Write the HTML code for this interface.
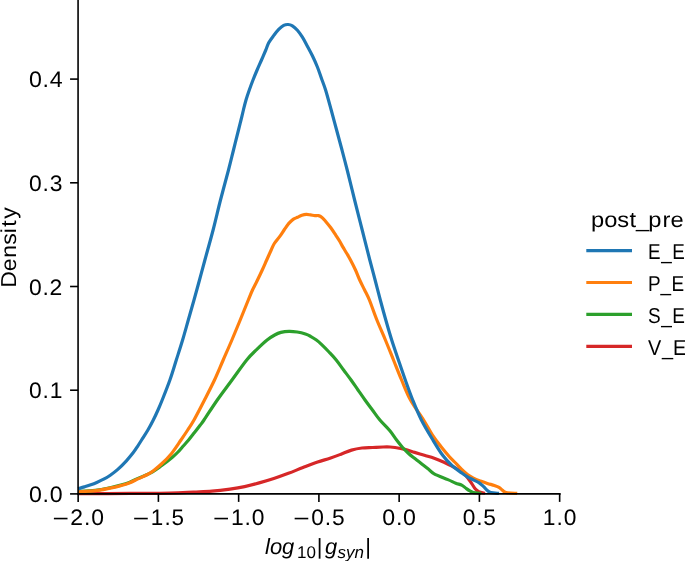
<!DOCTYPE html><html><head><meta charset="utf-8"><style>html,body{margin:0;padding:0;background:#fff;overflow:hidden}svg{display:block;will-change:transform}text{font-family:"Liberation Sans",sans-serif;fill:#000;text-rendering:geometricPrecision}</style></head><body>
<svg width="685" height="561" viewBox="0 0 685 561">
<rect width="685" height="561" fill="#fff"/>
<g fill="none" stroke-width="3.2" stroke-linejoin="round" stroke-linecap="butt">
<path stroke="#d62728" d="M78.10,493.70 C86.75,493.65 114.68,493.50 130.00,493.40 C145.32,493.30 159.43,493.32 170.00,493.10 C180.57,492.88 186.40,492.42 193.40,492.10 C200.40,491.78 205.90,491.70 212.00,491.20 C218.10,490.70 224.57,489.87 230.00,489.10 C235.43,488.33 239.73,487.63 244.60,486.60 C249.47,485.57 254.33,484.25 259.20,482.90 C264.07,481.55 268.93,480.10 273.80,478.50 C278.67,476.90 283.53,475.13 288.40,473.30 C293.27,471.47 298.13,469.38 303.00,467.50 C307.87,465.62 313.10,463.55 317.60,462.00 C322.10,460.45 326.10,459.50 330.00,458.20 C333.90,456.90 337.42,455.55 341.00,454.20 C344.58,452.85 348.00,451.13 351.50,450.10 C355.00,449.07 358.48,448.43 362.00,448.00 C365.52,447.57 369.08,447.67 372.60,447.50 C376.12,447.33 380.18,447.08 383.10,447.00 C386.02,446.92 388.12,446.92 390.10,447.00 C392.08,447.08 392.55,447.10 395.00,447.50 C397.45,447.90 401.53,448.58 404.80,449.40 C408.07,450.22 411.33,451.42 414.60,452.40 C417.87,453.38 421.13,454.33 424.40,455.30 C427.67,456.27 430.93,457.05 434.20,458.20 C437.47,459.35 441.05,460.88 444.00,462.20 C446.95,463.52 449.57,464.88 451.90,466.10 C454.23,467.32 456.07,468.33 458.00,469.50 C459.93,470.67 461.78,471.57 463.50,473.10 C465.22,474.63 466.92,476.95 468.30,478.70 C469.68,480.45 470.65,481.92 471.80,483.60 C472.95,485.28 474.07,487.47 475.20,488.80 C476.33,490.13 477.55,490.97 478.60,491.60 C479.65,492.23 480.43,492.30 481.50,492.60 C482.57,492.90 484.42,493.27 485.00,493.40"/>
<path stroke="#2ca02c" d="M78.10,491.60 C79.87,491.48 85.15,491.20 88.70,490.90 C92.25,490.60 95.83,490.33 99.40,489.80 C102.97,489.27 106.53,488.48 110.10,487.70 C113.67,486.92 117.60,485.98 120.80,485.10 C124.00,484.22 126.43,483.52 129.30,482.40 C132.17,481.28 134.43,479.98 138.00,478.40 C141.57,476.82 146.80,475.00 150.70,472.90 C154.60,470.80 157.83,468.37 161.40,465.80 C164.97,463.23 169.33,459.80 172.10,457.50 C174.87,455.20 176.18,453.87 178.00,452.00 C179.82,450.13 181.23,448.30 183.00,446.30 C184.77,444.30 186.68,442.30 188.60,440.00 C190.52,437.70 192.55,435.00 194.50,432.50 C196.45,430.00 198.72,427.08 200.30,425.00 C201.88,422.92 201.17,424.17 204.00,420.00 C206.83,415.83 212.63,406.67 217.30,400.00 C221.97,393.33 227.10,386.67 232.00,380.00 C236.90,373.33 242.60,365.07 246.70,360.00 C250.80,354.93 253.20,352.93 256.60,349.60 C260.00,346.27 264.08,342.43 267.10,340.00 C270.12,337.57 272.40,336.27 274.70,335.00 C277.00,333.73 278.52,333.02 280.90,332.40 C283.28,331.78 286.28,331.37 289.00,331.30 C291.72,331.23 294.47,331.55 297.20,332.00 C299.93,332.45 303.18,333.28 305.40,334.00 C307.62,334.72 308.67,335.30 310.50,336.30 C312.33,337.30 314.53,338.62 316.40,340.00 C318.27,341.38 319.60,342.60 321.70,344.60 C323.80,346.60 326.58,349.43 329.00,352.00 C331.42,354.57 333.77,357.00 336.20,360.00 C338.63,363.00 341.12,366.67 343.60,370.00 C346.08,373.33 348.65,376.67 351.05,380.00 C353.45,383.33 355.68,386.67 358.00,390.00 C360.32,393.33 362.60,396.67 365.00,400.00 C367.40,403.33 369.92,406.67 372.40,410.00 C374.88,413.33 376.98,416.53 379.90,420.00 C382.82,423.47 387.12,427.47 389.90,430.80 C392.68,434.13 394.52,437.27 396.60,440.00 C398.68,442.73 400.40,444.95 402.40,447.20 C404.40,449.45 406.52,451.60 408.60,453.50 C410.68,455.40 412.60,456.78 414.90,458.60 C417.20,460.42 420.22,462.70 422.40,464.40 C424.58,466.10 426.03,467.22 428.00,468.80 C429.97,470.38 430.88,472.10 434.20,473.90 C437.52,475.70 444.30,478.05 447.90,479.60 C451.50,481.15 453.50,482.28 455.80,483.20 C458.10,484.12 459.93,484.20 461.70,485.10 C463.47,486.00 465.03,487.63 466.40,488.60 C467.77,489.57 468.73,490.23 469.90,490.90 C471.07,491.57 471.50,492.18 473.40,492.60 C475.30,493.02 479.98,493.27 481.30,493.40"/>
<path stroke="#ff7f0e" d="M78.10,491.80 C79.87,491.70 85.15,491.47 88.70,491.20 C92.25,490.93 95.83,490.72 99.40,490.20 C102.97,489.68 106.53,488.87 110.10,488.10 C113.67,487.33 117.60,486.45 120.80,485.60 C124.00,484.75 126.43,484.12 129.30,483.00 C132.17,481.88 134.43,480.63 138.00,478.90 C141.57,477.17 146.80,475.08 150.70,472.60 C154.60,470.12 157.92,467.20 161.40,464.00 C164.88,460.80 168.33,457.40 171.60,453.40 C174.87,449.40 178.32,443.90 181.00,440.00 C183.68,436.10 185.53,433.33 187.70,430.00 C189.87,426.67 191.20,425.00 194.00,420.00 C196.80,415.00 201.08,406.67 204.50,400.00 C207.92,393.33 211.38,386.67 214.50,380.00 C217.62,373.33 220.30,366.67 223.20,360.00 C226.10,353.33 229.07,346.67 231.90,340.00 C234.73,333.33 237.47,326.67 240.20,320.00 C242.93,313.33 246.25,305.00 248.30,300.00 C250.35,295.00 250.97,293.33 252.50,290.00 C254.03,286.67 255.88,283.33 257.50,280.00 C259.12,276.67 260.72,273.33 262.25,270.00 C263.78,266.67 265.21,263.33 266.70,260.00 C268.19,256.67 269.93,252.75 271.20,250.00 C272.47,247.25 272.83,245.82 274.30,243.50 C275.77,241.18 278.32,238.43 280.00,236.10 C281.68,233.77 282.93,231.62 284.40,229.50 C285.87,227.38 287.35,225.08 288.80,223.40 C290.25,221.72 291.65,220.42 293.10,219.40 C294.55,218.38 296.03,217.98 297.50,217.30 C298.97,216.62 300.43,215.78 301.90,215.30 C303.37,214.82 304.85,214.47 306.30,214.40 C307.75,214.33 309.15,214.70 310.60,214.90 C312.05,215.10 313.68,215.48 315.00,215.60 C316.32,215.72 317.33,215.30 318.50,215.60 C319.67,215.90 320.83,216.47 322.00,217.40 C323.17,218.33 324.03,219.47 325.50,221.20 C326.97,222.93 329.05,225.40 330.80,227.80 C332.55,230.20 334.47,233.27 336.00,235.60 C337.53,237.93 338.87,239.92 340.00,241.80 C341.13,243.68 341.67,244.95 342.80,246.90 C343.93,248.85 345.52,251.32 346.80,253.50 C348.08,255.68 349.05,257.25 350.50,260.00 C351.95,262.75 353.97,266.67 355.50,270.00 C357.03,273.33 358.18,276.67 359.70,280.00 C361.22,283.33 362.98,286.67 364.60,290.00 C366.22,293.33 367.35,295.00 369.40,300.00 C371.45,305.00 374.23,313.33 376.90,320.00 C379.57,326.67 382.63,333.33 385.40,340.00 C388.17,346.67 390.80,353.33 393.50,360.00 C396.20,366.67 398.77,373.33 401.60,380.00 C404.43,386.67 406.83,393.33 410.50,400.00 C414.17,406.67 419.85,414.00 423.60,420.00 C427.35,426.00 430.05,431.50 433.00,436.00 C435.95,440.50 438.60,443.58 441.30,447.00 C444.00,450.42 446.98,454.00 449.20,456.50 C451.42,459.00 452.52,459.83 454.60,462.00 C456.68,464.17 459.55,467.42 461.70,469.50 C463.85,471.58 465.55,473.07 467.50,474.50 C469.45,475.93 471.25,477.02 473.40,478.10 C475.55,479.18 478.07,480.12 480.40,481.00 C482.73,481.88 485.07,482.65 487.40,483.40 C489.73,484.15 492.47,484.83 494.40,485.50 C496.33,486.17 497.63,486.58 499.00,487.40 C500.37,488.22 501.42,489.53 502.60,490.40 C503.78,491.27 503.67,492.10 506.10,492.60 C508.53,493.10 515.35,493.27 517.20,493.40"/>
<path stroke="#1f77b4" d="M78.10,488.80 C79.15,488.48 82.28,487.57 84.40,486.90 C86.52,486.23 88.65,485.58 90.80,484.80 C92.95,484.02 95.15,483.13 97.30,482.20 C99.45,481.27 101.53,480.37 103.70,479.20 C105.87,478.03 107.95,476.83 110.30,475.20 C112.65,473.57 115.12,471.80 117.80,469.40 C120.48,467.00 123.82,463.60 126.40,460.80 C128.98,458.00 131.43,455.02 133.30,452.60 C135.17,450.18 136.22,448.40 137.60,446.30 C138.98,444.20 139.88,442.72 141.60,440.00 C143.32,437.28 145.95,433.33 147.90,430.00 C149.85,426.67 151.62,423.33 153.30,420.00 C154.98,416.67 156.52,413.33 158.00,410.00 C159.48,406.67 160.22,405.00 162.20,400.00 C164.18,395.00 167.55,386.67 169.90,380.00 C172.25,373.33 174.18,366.67 176.30,360.00 C178.42,353.33 180.60,346.67 182.60,340.00 C184.60,333.33 186.40,326.67 188.30,320.00 C190.20,313.33 192.13,306.67 194.00,300.00 C195.87,293.33 197.68,286.67 199.50,280.00 C201.32,273.33 202.63,268.33 204.90,260.00 C207.17,251.67 210.50,240.00 213.10,230.00 C215.70,220.00 217.93,210.00 220.50,200.00 C223.07,190.00 226.33,178.33 228.50,170.00 C230.67,161.67 231.83,156.67 233.50,150.00 C235.17,143.33 237.25,135.00 238.50,130.00 C239.75,125.00 240.18,123.33 241.00,120.00 C241.82,116.67 242.57,113.33 243.40,110.00 C244.23,106.67 245.02,103.33 246.00,100.00 C246.98,96.67 248.13,93.33 249.30,90.00 C250.47,86.67 251.70,83.33 253.00,80.00 C254.30,76.67 255.68,73.33 257.10,70.00 C258.52,66.67 260.05,63.33 261.50,60.00 C262.95,56.67 264.60,52.87 265.80,50.00 C267.00,47.13 267.38,45.20 268.70,42.80 C270.02,40.40 272.03,37.83 273.70,35.60 C275.37,33.37 277.03,31.10 278.70,29.40 C280.37,27.70 282.13,26.22 283.70,25.40 C285.27,24.58 286.65,24.43 288.10,24.50 C289.55,24.57 290.85,24.83 292.40,25.80 C293.95,26.77 295.73,28.40 297.40,30.30 C299.07,32.20 300.73,34.55 302.40,37.20 C304.07,39.85 305.73,43.10 307.40,46.20 C309.07,49.30 310.73,52.33 312.40,55.80 C314.07,59.27 315.88,63.22 317.40,67.00 C318.92,70.78 320.13,74.67 321.50,78.50 C322.87,82.33 323.98,84.75 325.60,90.00 C327.22,95.25 329.37,103.33 331.20,110.00 C333.03,116.67 334.80,123.33 336.60,130.00 C338.40,136.67 340.23,143.33 342.00,150.00 C343.77,156.67 345.10,161.67 347.20,170.00 C349.30,178.33 352.10,190.00 354.60,200.00 C357.10,210.00 359.67,220.00 362.20,230.00 C364.73,240.00 367.65,251.67 369.80,260.00 C371.95,268.33 373.35,273.33 375.10,280.00 C376.85,286.67 378.52,293.33 380.30,300.00 C382.08,306.67 383.90,313.33 385.80,320.00 C387.70,326.67 389.60,333.33 391.70,340.00 C393.80,346.67 396.13,353.33 398.40,360.00 C400.67,366.67 402.92,373.33 405.30,380.00 C407.68,386.67 410.02,393.33 412.70,400.00 C415.38,406.67 418.03,413.33 421.40,420.00 C424.77,426.67 429.35,434.12 432.90,440.00 C436.45,445.88 439.53,451.05 442.70,455.30 C445.87,459.55 448.73,462.57 451.90,465.50 C455.07,468.43 459.10,471.00 461.70,472.90 C464.30,474.80 465.55,475.73 467.50,476.90 C469.45,478.07 471.45,478.92 473.40,479.90 C475.35,480.88 477.45,481.63 479.20,482.80 C480.95,483.97 482.53,485.60 483.90,486.90 C485.27,488.20 486.23,489.65 487.40,490.60 C488.57,491.55 488.97,492.13 490.90,492.60 C492.83,493.07 497.65,493.27 499.00,493.40"/>
</g>
<g stroke="#000" stroke-width="1.6" fill="none" stroke-linecap="square">
<line x1="78.07" y1="0" x2="78.07" y2="493.9"/>
<line x1="78.07" y1="493.9" x2="559.9" y2="493.9"/>
</g>
<g stroke="#000" stroke-width="1.6">
<line x1="70.07" y1="493.90" x2="78.07" y2="493.90"/>
<line x1="70.07" y1="390.20" x2="78.07" y2="390.20"/>
<line x1="70.07" y1="286.50" x2="78.07" y2="286.50"/>
<line x1="70.07" y1="182.80" x2="78.07" y2="182.80"/>
<line x1="70.07" y1="79.10" x2="78.07" y2="79.10"/>
<line x1="78.15" y1="493.90" x2="78.15" y2="501.90"/>
<line x1="158.40" y1="493.90" x2="158.40" y2="501.90"/>
<line x1="238.65" y1="493.90" x2="238.65" y2="501.90"/>
<line x1="318.90" y1="493.90" x2="318.90" y2="501.90"/>
<line x1="399.15" y1="493.90" x2="399.15" y2="501.90"/>
<line x1="479.40" y1="493.90" x2="479.40" y2="501.90"/>
<line x1="559.65" y1="493.90" x2="559.65" y2="501.90"/>
</g>
<text transform="scale(1.0350,1)" x="27.94 41.10 48.03" y="501.90" font-size="22.4">0.0</text>
<text transform="scale(1.0196,1)" x="28.45 41.76 48.74" y="398.20" font-size="22.4">0.1</text>
<text transform="scale(1.0226,1)" x="28.35 41.63 48.41" y="294.50" font-size="22.4">0.2</text>
<text transform="scale(1.0214,1)" x="28.39 41.68 48.78" y="190.80" font-size="22.4">0.3</text>
<text transform="scale(1.0350,1)" x="27.94 41.10 48.03" y="87.10" font-size="22.4">0.4</text>
<text transform="scale(1.2539,1)" x="41.95" y="526.30" font-size="22.4">−</text><text transform="scale(1.0226,1)" x="68.67 82.23 89.29" y="525.20" font-size="22.4">2.0</text>
<text transform="scale(1.2539,1)" x="105.95" y="526.30" font-size="22.4">−</text><text transform="scale(1.0004,1)" x="150.73 164.35 171.55" y="525.20" font-size="22.4">1.5</text>
<text transform="scale(1.2539,1)" x="169.95" y="526.30" font-size="22.4">−</text><text transform="scale(1.0196,1)" x="226.47 239.90 246.99" y="525.20" font-size="22.4">1.0</text>
<text transform="scale(1.2539,1)" x="233.95" y="526.30" font-size="22.4">−</text><text transform="scale(1.0157,1)" x="306.48 319.83 326.88" y="525.20" font-size="22.4">0.5</text>
<text transform="scale(1.0350,1)" x="369.39 382.55 389.48" y="525.20" font-size="22.4">0.0</text>
<text transform="scale(1.0157,1)" x="455.51 468.86 475.90" y="525.20" font-size="22.4">0.5</text>
<text transform="scale(1.0196,1)" x="532.35 545.77 552.86" y="525.20" font-size="22.4">1.0</text>
<g transform="translate(15.9,285.6) rotate(-90)"><text transform="scale(1.0674,1)" x="-2.06 13.56 26.01 38.23 49.06 55.07 62.53" y="0.00" font-size="21.6">Density</text></g>
<text y="553.6" font-size="22" font-style="italic"><tspan x="265">log</tspan><tspan x="297" y="557.7" font-size="17" font-style="normal">10</tspan><tspan x="316.8" y="553.6" font-style="normal">|</tspan><tspan x="325">g</tspan><tspan x="337.6" y="557.7" font-size="17">syn</tspan><tspan x="365.3" y="553.6" font-style="normal">|</tspan></text>
<text transform="scale(1.0964,1)" x="538.98 551.13 563.01 574.19 580.05 591.28 604.21 611.58" y="226.60" font-size="21.6">post_pre</text>
<line x1="586.3" y1="250.60" x2="632" y2="250.60" stroke="#1f77b4" stroke-width="3.2"/>
<text transform="scale(0.8710,1)" x="743.86 759.07 771.80" y="258.80" font-size="21.6">E_E</text>
<line x1="586.3" y1="282.50" x2="632" y2="282.50" stroke="#ff7f0e" stroke-width="3.2"/>
<text transform="scale(0.8769,1)" x="738.94 753.23 765.87" y="290.70" font-size="21.6">P_E</text>
<line x1="586.3" y1="314.40" x2="632" y2="314.40" stroke="#2ca02c" stroke-width="3.2"/>
<text transform="scale(0.8792,1)" x="737.01 751.99 764.59" y="322.60" font-size="21.6">S_E</text>
<line x1="586.3" y1="346.30" x2="632" y2="346.30" stroke="#d62728" stroke-width="3.2"/>
<text transform="scale(0.9202,1)" x="704.34 719.42 731.38" y="354.50" font-size="21.6">V_E</text>
</svg></body></html>
